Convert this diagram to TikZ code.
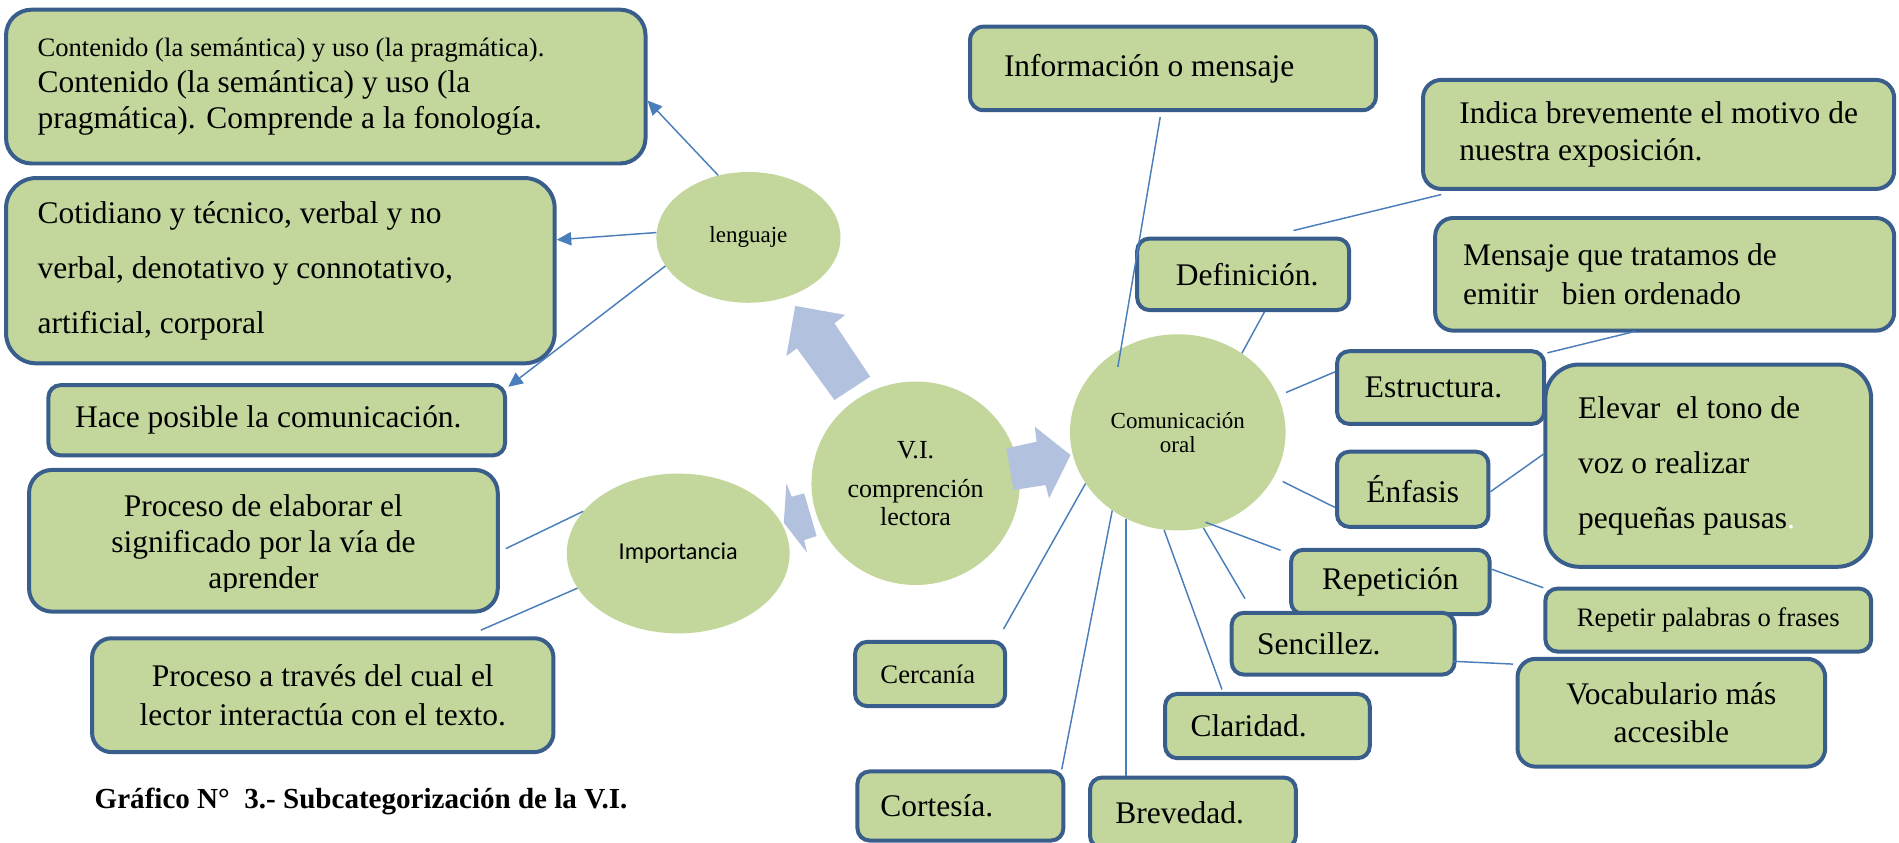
\documentclass[tikz,border=0pt]{standalone}
\usepackage{fontspec}
\setmainfont{Liberation Serif}
\newfontfamily\calibrifont{Carlito}
\usetikzlibrary{shapes.geometric, arrows.meta}

\definecolor{boxgreen}{HTML}{C3D69B}
\definecolor{boxblue}{HTML}{3A5E8C}
\definecolor{linkblue}{HTML}{4A7EBB}
\definecolor{arrowblue}{HTML}{B2C2DE}

\tikzset{
  tbox/.style={draw=boxblue, line width=3.3pt, fill=boxgreen, rounded corners=#1, inner sep=0pt, font=\fontsize{26}{30}\selectfont},
  tbox/.default=10pt,
  bub/.style={ellipse, fill=boxgreen, inner sep=0pt},
  link/.style={draw=linkblue, line width=1.2pt},
  linkarrow/.style={link, -{Triangle[length=12pt, width=11pt]}},
  bigarrow/.style={fill=arrowblue},
}

\begin{document}
\begin{tikzpicture}[x=1pt, y=-1pt]
\useasboundingbox (0,0) rectangle (1568,696);

% ellipses
\node[bub, minimum width=152pt, minimum height=108pt, font=\fontsize{19}{22}\selectfont] (leng) at (618,196) {lenguaje};
\node[bub, minimum width=184pt, minimum height=132pt, font=\calibrifont\fontsize{20}{24}\selectfont] (impo) at (560,457) {Importancia};
\node[bub, minimum width=172pt, minimum height=168pt, align=center, font=\fontsize{21.5}{23}\selectfont] (vi) at (756,399) {V.I.\\[9.4pt]comprención\\lectora};
\node[bub, minimum width=178pt, minimum height=162pt, align=center, font=\fontsize{19}{19.5}\selectfont] (comm) at (972.5,357) {Comunicación\\oral};

% block arrows
\fill[bigarrow] (718.5,311) -- (689,267) -- (697.9,260) -- (656.6,252.6) -- (649.3,294) -- (658,287.6) -- (689,330.3) -- cycle;
\fill[bigarrow] (830.9,370.2) -- (855.9,364.7) -- (854.4,352.3) -- (883.9,375.7) -- (866.2,411.5) -- (863.3,400.5) -- (836.8,404.6) -- cycle;
\fill[bigarrow] (664,407.4) -- (653.7,410.1) -- (649.3,399.1) -- (647.2,431.6) -- (666.4,456.4) -- (664,446) -- (674.3,442.6) -- cycle;

% left side
\node[tbox=21pt, minimum width=528pt, minimum height=127pt, text width=476pt, align=flush left] (cont) at (269,71.5) {\fontsize{22}{26}\selectfont Contenido (la semántica) y uso (la pragmática).\\\fontsize{26}{30}\selectfont Contenido (la semántica) y uso (la\\pragmática). Comprende a la fonología.};
\node[tbox=25pt, minimum width=453pt, minimum height=153pt, text width=401pt, align=flush left, font=\fontsize{26}{45.5}\selectfont] (coti) at (231.5,223.5) {Cotidiano y técnico, verbal y no\\verbal, denotativo y connotativo,\\artificial, corporal};
\node[tbox, minimum width=377pt, minimum height=58pt, text width=333pt, align=flush left] (hace) at (228.5,347) {Hace posible la comunicación.};
\node[tbox=19pt, minimum width=387pt, minimum height=117pt] (proc1) at (217.5,446.5) {};
\begin{scope}
\clip (24,388) rectangle (411,488.6);
\node[align=center, font=\fontsize{26}{30}\selectfont] (proc1txt) at (217.5,450) {Proceso de elaborar el\\significado por la vía de\\aprender};
\end{scope}
\node[tbox=16pt, minimum width=381pt, minimum height=94pt, align=center, font=\fontsize{26}{32}\selectfont] (proc2) at (266.5,574) {Proceso a través del cual el\\lector interactúa con el texto.};
\node[anchor=west, inner sep=0pt, font=\bfseries\fontsize{24}{28}\selectfont] (caption) at (78,662) {Gráfico N°\ \ 3.- Subcategorización de la V.I.};

% right side
\node[tbox=11pt, minimum width=335pt, minimum height=69pt, text width=279pt, align=flush left] (info) at (968.5,56.5) {Información o mensaje};
\node[tbox=15pt, minimum width=389pt, minimum height=90pt, align=left] (indica) at (1369.5,111) {Indica brevemente el motivo de\\nuestra exposición.};
\node[tbox, minimum width=175pt, minimum height=59pt, text width=111pt, align=flush left] (defi) at (1026.5,226.5) {Definición.};
\node[tbox=15pt, minimum width=379pt, minimum height=93pt, text width=333pt, align=flush left, font=\fontsize{26}{32}\selectfont] (mens) at (1374.5,226.5) {Mensaje que tratamos de\\emitir\ \ \ bien ordenado};
\node[tbox, minimum width=171pt, minimum height=60pt, text width=125pt, align=flush left] (estr) at (1189.5,320) {Estructura.};
\node[tbox=28pt, minimum width=269pt, minimum height=167pt, text width=215pt, align=flush left, font=\fontsize{26}{45.5}\selectfont] (elev) at (1410.5,384.5) {Elevar\ \ el tono de\\voz o realizar\\pequeñas pausas\textcolor{white}{.}};
\node[tbox, minimum width=125pt, minimum height=62pt] (enfa) at (1166.5,404) {Énfasis};
\node[tbox, minimum width=164pt, minimum height=53pt] (repe) at (1148,480.5) {Repetición};
\node[tbox, minimum width=269pt, minimum height=52pt, font=\fontsize{22}{26}\selectfont] (repf) at (1410.5,512) {Repetir palabras o frases};
\node[tbox, minimum width=184pt, minimum height=51pt, text width=142pt, align=flush left] (senc) at (1109,531.5) {Sencillez.};
\node[tbox=15pt, minimum width=254pt, minimum height=89pt, align=center, font=\fontsize{26}{31}\selectfont] (voca) at (1380,588.5) {Vocabulario más\\accesible};
\node[tbox, minimum width=169pt, minimum height=53pt, text width=127pt, align=flush left] (clar) at (1046.5,599.5) {Claridad.};
\node[tbox, minimum width=124pt, minimum height=53pt, text width=82pt, align=flush left, font=\fontsize{22}{26}\selectfont] (cerc) at (768,556.5) {Cercanía};
\node[tbox, minimum width=170pt, minimum height=57pt, text width=132pt, align=flush left] (cort) at (793,665.5) {Cortesía.};
\node[tbox, minimum width=170pt, minimum height=58pt, text width=128pt, align=flush left] (brev) at (985,671) {Brevedad.};

% connectors
\draw[linkarrow] (leng.116) -- ([yshift=-11.5pt]cont.east);
\draw[linkarrow] (leng.177) -- ([yshift=25.5pt]coti.east);
\draw[linkarrow] (leng.199) -- ([shift={(1pt,-3pt)}]hace.north east);
\draw[link] (impo.156) -- ([shift={(5pt,-6.5pt)}]proc1.east);
\draw[link] (impo.199) -- ([shift={(130.5pt,5pt)}]proc2.north);

\draw[link] ([shift={(-10.5pt,-4pt)}]info.south) -- ([shift={(-49.5pt,54pt)}]comm.center);
\draw[link] ([shift={(41.5pt,5pt)}]defi.north) -- ([shift={(-179.5pt,-3pt)}]indica.south);
\draw[link] ([xshift=17.5pt]defi.south) -- (comm.51.5);
\draw[link] ([shift={(1pt,-3pt)}]estr.north east) -- ([shift={(-24.5pt,1pt)}]mens.south);
\draw[link, shorten <=7pt] (comm.20) -- ([yshift=13pt]estr.west);
\draw[link, shorten <=8pt] (comm.-25) -- ([yshift=-15pt]enfa.west);
\draw[link] ([yshift=-2pt]enfa.east) -- ([yshift=9.5pt]elev.west);
\draw[link, shorten <=-7pt] (comm.-69) -- ([shift={(-7pt,-2pt)}]repe.north west);
\draw[link] ([yshift=10.5pt]repe.east) -- ([yshift=-1pt]repf.north west);
\draw[link] (comm.-75) -- ([shift={(-81pt,10pt)}]senc.north);
\draw[link] ([shift={(-3pt,-14.5pt)}]senc.east) -- ([shift={(-2pt,-6pt)}]voca.north west);
\draw[link] (comm.-98.5) -- ([shift={(-37.5pt,2pt)}]clar.north);
\draw[link] (comm.239) -- (comm.239 |- brev.north);
\draw[link] (comm.230) -- ([xshift=-3pt]cort.north east);
\draw[link] (comm.209) -- ([shift={(-3pt,9pt)}]cerc.north east);
\end{tikzpicture}
\end{document}
